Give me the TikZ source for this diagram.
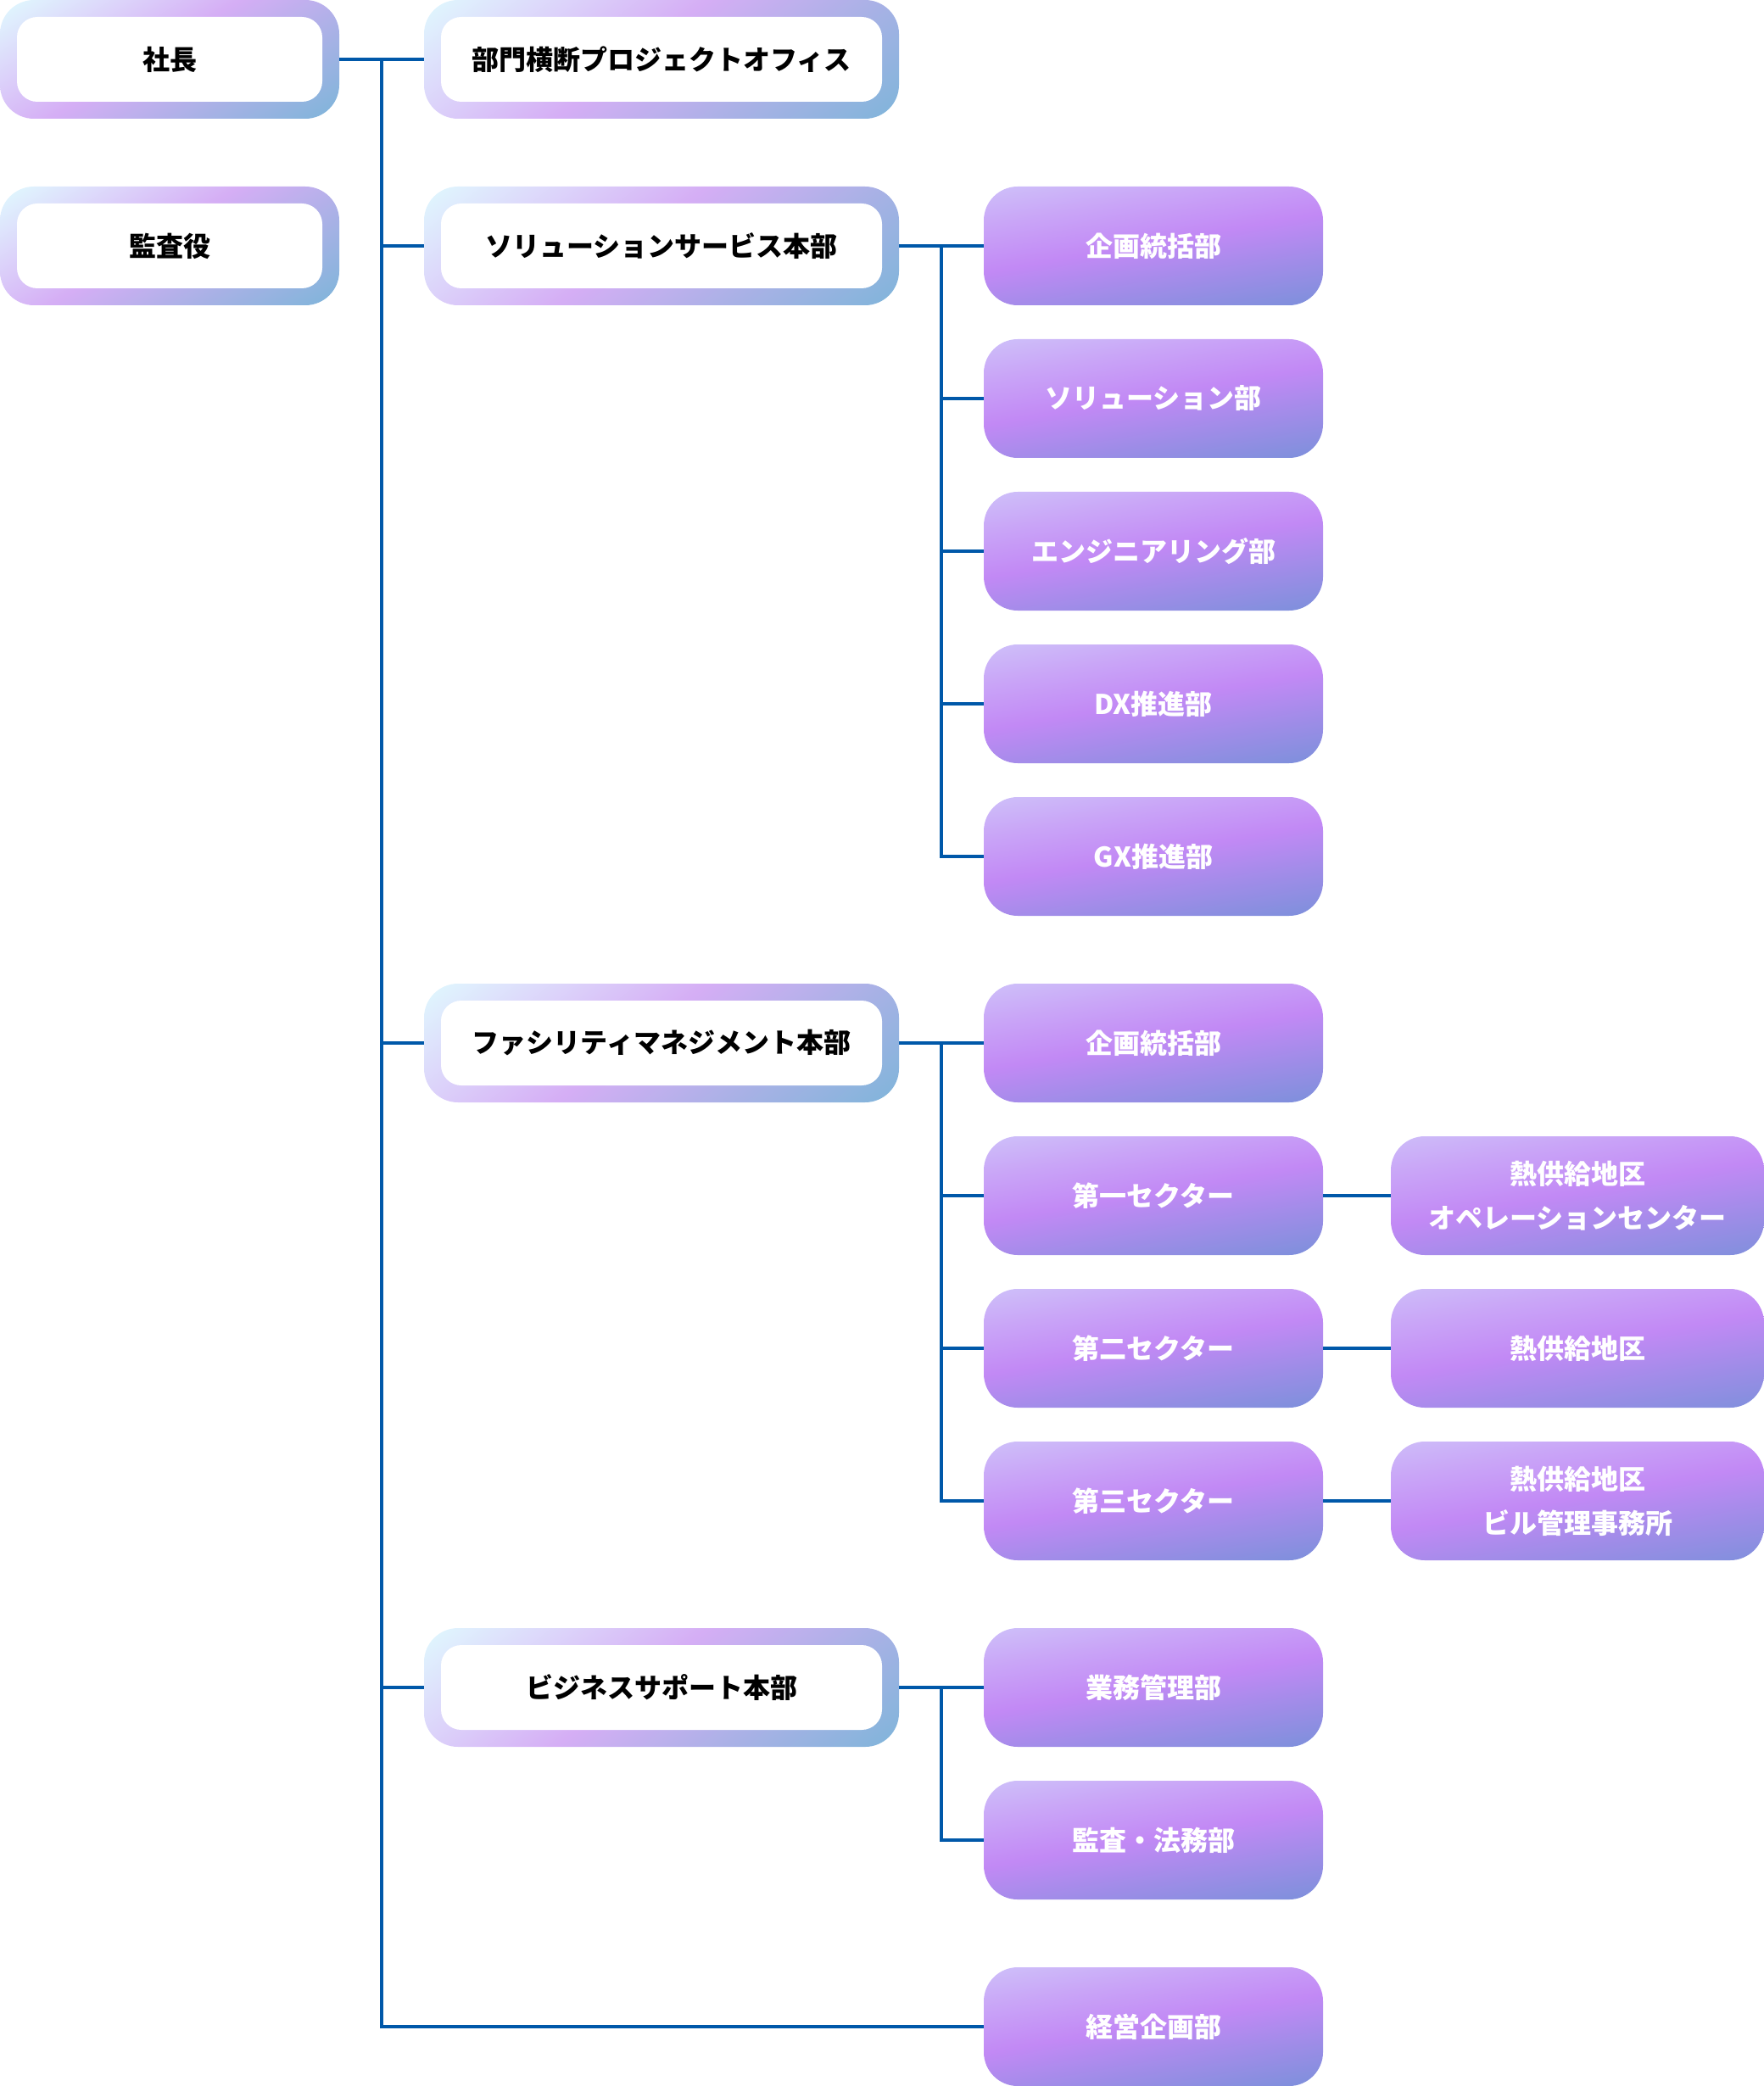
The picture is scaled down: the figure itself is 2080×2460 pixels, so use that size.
\documentclass[tikz,border=0pt]{standalone}
\usepackage{fontspec}
\setmainfont{Noto Sans CJK JP}
\usetikzlibrary{calc}

\definecolor{linkblue}{HTML}{0058A9}
\definecolor{rimA}{HTML}{E0F8FE}
\definecolor{rimB}{HTML}{DCD3FA}
\definecolor{rimC}{HTML}{D5AEF5}
\definecolor{rimD}{HTML}{AAB1E6}
\definecolor{rimE}{HTML}{80B5DA}
\definecolor{unitA}{HTML}{CEC0F9}
\definecolor{unitB}{HTML}{C9A4F7}
\definecolor{unitC}{HTML}{C289F5}
\definecolor{unitD}{HTML}{A08CE8}
\definecolor{unitE}{HTML}{7C90DB}

\pgfdeclarehorizontalshading{rim}{100bp}{color(0bp)=(rimA); color(30bp)=(rimA); color(39bp)=(rimB); color(48bp)=(rimC); color(59bp)=(rimD); color(70bp)=(rimE); color(100bp)=(rimE)}
\pgfdeclarehorizontalshading{unitfill}{100bp}{color(0bp)=(unitA); color(37bp)=(unitA); color(43bp)=(unitB); color(49.5bp)=(unitC); color(56bp)=(unitD); color(63bp)=(unitE); color(100bp)=(unitE)}

\tikzset{
	link/.style={draw=linkblue, line width=2pt},
	boxfont/.style={font=\fontsize{16pt}{26pt}\selectfont\bfseries, align=center, inner sep=0pt},
	gradfill/.style n args={3}{path picture={
		\shade[shading=#1, shading angle=#3] ([shift={(-#2,-#2)}]path picture bounding box.center) rectangle ([shift={(#2,#2)}]path picture bounding box.center);}},
	inset/.style={postaction={path picture={\fill[white, rounded corners=12pt] ([shift={(10pt,10pt)}]path picture bounding box.south west) rectangle ([shift={(-10pt,-10pt)}]path picture bounding box.north east);}}},
	headbox/.style={boxfont, gradfill={rim}{140pt}{-52}, inset, rounded corners=20pt, minimum width=280pt, minimum height=70pt, text=black},
	topbox/.style={boxfont, gradfill={rim}{100pt}{-58}, inset, rounded corners=20pt, minimum width=200pt, minimum height=70pt, text=black},
	unitbox/.style={boxfont, gradfill={unitfill}{100pt}{-80}, rounded corners=20pt, minimum width=200pt, minimum height=70pt, text=white},
	sitebox/.style={unitbox, gradfill={unitfill}{110pt}{-80}, minimum width=220pt},
}

\begin{document}
\begin{tikzpicture}[x=0.5pt, y=-0.5pt]
	\useasboundingbox (0,0) rectangle (2080,2460);

	\node[topbox] (shacho) at (200,70) {社長};
	\node[topbox] (kansayaku) at (200,290) {監査役};

	\node[headbox] (pmo) at (780,70) {部門横断プロジェクトオフィス};
	\node[headbox] (sol) at (780,290) {ソリューションサービス本部};
	\node[headbox] (fm) at (780,1230) {ファシリティマネジメント本部};
	\node[headbox] (bs) at (780,1990) {ビジネスサポート本部};

	\node[unitbox] (sol1) at (1360,290) {企画統括部};
	\node[unitbox] (sol2) at (1360,470) {ソリューション部};
	\node[unitbox] (sol3) at (1360,650) {エンジニアリング部};
	\node[unitbox] (sol4) at (1360,830) {DX推進部};
	\node[unitbox] (sol5) at (1360,1010) {GX推進部};

	\node[unitbox] (fm1) at (1360,1230) {企画統括部};
	\node[unitbox] (fm2) at (1360,1410) {第一セクター};
	\node[unitbox] (fm3) at (1360,1590) {第二セクター};
	\node[unitbox] (fm4) at (1360,1770) {第三セクター};

	\node[unitbox] (bs1) at (1360,1990) {業務管理部};
	\node[unitbox] (bs2) at (1360,2170) {監査・法務部};

	\node[unitbox] (keiei) at (1360,2390) {経営企画部};

	\node[sitebox] (site1) at (1860,1410) {熱供給地区\\オペレーションセンター};
	\node[sitebox] (site2) at (1860,1590) {熱供給地区};
	\node[sitebox] (site3) at (1860,1770) {熱供給地区\\ビル管理事務所};

	\coordinate (trunk) at ($(shacho.east)!0.5!(pmo.west)$);
	\draw[link] (shacho.east) -- (pmo.west);
	\draw[link] (trunk) |- (keiei.west);
	\foreach \n in {sol,fm,bs}
		\draw[link] (trunk |- \n.west) -- (\n.west);

	\coordinate (soltrunk) at ($(sol.east)!0.5!(sol1.west)$);
	\draw[link] (sol.east) -- (sol1.west);
	\draw[link] (soltrunk) |- (sol5.west);
	\foreach \n in {sol2,sol3,sol4}
		\draw[link] (soltrunk |- \n.west) -- (\n.west);

	\coordinate (fmtrunk) at ($(fm.east)!0.5!(fm1.west)$);
	\draw[link] (fm.east) -- (fm1.west);
	\draw[link] (fmtrunk) |- (fm4.west);
	\foreach \n in {fm2,fm3}
		\draw[link] (fmtrunk |- \n.west) -- (\n.west);

	\coordinate (bstrunk) at ($(bs.east)!0.5!(bs1.west)$);
	\draw[link] (bs.east) -- (bs1.west);
	\draw[link] (bstrunk) |- (bs2.west);

	\draw[link] (fm2.east) -- (site1.west);
	\draw[link] (fm3.east) -- (site2.west);
	\draw[link] (fm4.east) -- (site3.west);
\end{tikzpicture}
\end{document}
